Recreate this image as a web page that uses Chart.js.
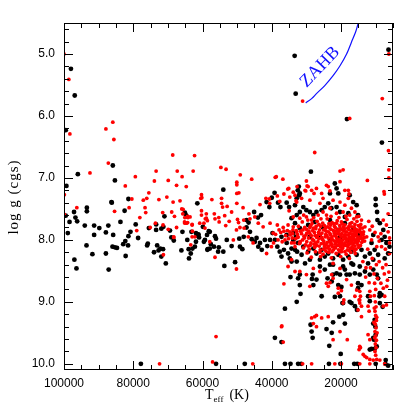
<!DOCTYPE html>
<html lang="en">
<head>
<meta charset="UTF-8">
<title>log g vs Teff</title>
<script src="https://cdn.jsdelivr.net/npm/chart.js"></script>
<style>
    body {
        margin: 0;
        padding: 0;
        background-color: #fff;
    }
</style>
</head>
<body>
<canvas id="kielChart" width="415" height="415"></canvas>
<script>
    // Teff in kK, log g in cgs
    const blackStars = [
        [98.0,5.24],[96.9,5.67],[99.5,6.23],[85.9,6.80],[96.0,6.94],[85.3,7.04],[99.3,7.13],[81.4,7.34],[86.3,7.39],[93.4,7.48],
        [93.4,7.54],[61.5,7.41],[99.5,7.61],[97.1,7.55],[96.7,7.64],[98.4,7.71],[96.2,7.70],[98.9,7.89],[94.0,7.77],[91.3,7.77],
        [91.3,7.92],[89.8,7.81],[93.5,8.09],[91.8,8.23],[97.0,8.32],[96.4,8.46],[87.9,7.88],[87.2,7.77],[86.2,7.40],[85.8,7.92],
        [86.0,8.11],[85.3,8.12],[84.7,8.13],[87.9,8.22],[87.1,8.48],[83.7,7.71],[82.5,7.53],[82.3,8.02],[82.9,8.07],[81.5,8.09],
        [82.2,8.26],[81.4,7.94],[80.8,7.87],[79.3,7.75],[78.6,7.97],[75.5,7.81],[75.8,8.06],[76.0,8.09],[74.0,8.20],[73.4,7.84],
        [73.4,7.75],[73.1,8.09],[72.7,8.17],[72.2,8.14],[71.4,8.15],[71.9,8.27],[71.0,7.62],[70.6,8.38],[71.9,7.82],[71.3,7.79],
        [69.4,7.85],[69.0,7.96],[68.3,8.01],[66.1,8.17],[65.1,7.56],[64.8,7.60],[64.6,7.62],[65.8,7.87],[64.4,8.00],[64.0,8.15],
        [63.9,8.30],[63.4,8.22],[62.9,8.14],[61.9,7.89],[61.6,7.93],[61.2,7.92],[61.0,7.96],[59.6,8.03],[59.9,7.79],[58.5,8.15],
        [58.7,7.92],[58.2,7.86],[77.8,10.0],
        [54.0,7.19],[45.1,7.55],[47.3,7.68],[46.7,7.72],[44.0,7.64],[43.1,7.60],[41.5,7.39],[40.7,7.47],[40.0,7.32],[39.2,7.24],
        [38.2,7.40],[37.5,7.47],[35.7,7.40],[35.0,7.47],[33.3,7.44],[32.8,7.33],[32.5,7.20],[32.1,7.28],[63.2,7.87],[61.2,7.91],
        [61.9,8.03],[62.2,8.11],[59.3,8.00],[58.6,8.16],[57.9,8.14],[57.6,8.07],[56.1,7.98],[56.7,8.11],[55.3,8.12],[54.0,8.19],
        [53.7,8.42],[50.6,8.36],[53.0,8.00],[51.6,8.10],[49.2,8.11],[49.4,7.98],[48.1,7.95],[47.3,7.80],[46.3,7.87],[45.8,7.99],
        [44.9,8.03],[44.4,7.97],[43.9,8.11],[43.4,8.05],[42.9,8.16],[42.0,8.00],[41.3,8.10],[40.5,8.00],[39.8,7.89],[39.1,8.00],
        [38.4,8.11],[37.7,8.19],[37.2,8.27],[36.5,8.16],[35.7,8.05],[35.3,8.22],[34.8,8.30],[34.3,8.14],[33.8,8.00],[33.0,7.95],
        [32.7,8.19],[33.8,7.89],[35.7,7.92],[37.2,7.95],[57.9,7.87],[56.4,7.94],[55.5,8.19],[48.5,8.15],[56.1,10.0],[47.8,10.0],
        [36.2,10.0],[39.1,9.58],[37.2,9.65],
        [33.4,5.03],[33.1,5.64],[18.3,6.05],[6.3,4.93],[8.2,6.43],[28.7,6.90],[10.0,7.34],[10.0,7.44],
        [32.2,7.14],[31.9,7.25],[21.8,7.09],[21.3,7.17],[23.2,7.25],[20.8,7.25],[23.7,7.41],[24.7,7.47],[22.8,7.49],[21.3,7.47],
        [17.5,7.28],[16.5,7.39],[15.5,7.44],[15.1,7.60],[17.9,7.57],[20.3,7.55],[18.9,7.63],[25.6,7.52],[27.1,7.55],[28.0,7.60],
        [29.0,7.55],[30.0,7.52],[30.9,7.47],[31.9,7.55],[32.8,7.60],[34.3,7.65],
        [9.6,7.55],[9.5,7.68],[8.8,7.73],[7.8,7.84],[7.4,7.95],[8.3,8.00],[6.9,8.05],[6.0,8.11],[6.4,8.22],[7.4,8.30],
        [9.3,8.24],[10.3,8.16],[11.2,8.05],[10.7,7.92],
        [33.8,8.00],[32.4,8.05],[30.9,8.11],[33.3,8.16],[31.4,8.24],[29.5,8.19],[28.0,8.14],[27.1,8.22],[25.6,8.16],[24.7,8.27],
        [26.1,8.32],[23.7,8.22],[22.3,8.30],[20.8,8.24],[19.4,8.32],[17.9,8.27],[17.0,8.19],[15.5,8.24],[14.1,8.16],[13.1,8.27],
        [11.7,8.22],[29.0,8.32],[30.4,8.38],[32.8,8.35],[22.3,8.40],[19.4,8.43],[16.5,8.40],[14.6,8.43],[12.2,8.38],[10.7,8.32],
        [33.3,7.73],[31.9,7.81],[29.5,7.76],[27.6,7.71],[25.2,7.80],[23.2,7.68],[20.8,7.84],[18.9,7.73],[16.5,7.81],[15.1,7.92],
        [29.0,7.95],[26.1,7.95],[20.3,7.97],[17.5,8.00],[23.2,8.00],
        [26.1,8.43],[24.7,8.48],[23.2,8.40],[21.3,8.54],[18.9,8.48],[17.5,8.56],[16.0,8.54],[14.6,8.56],[13.1,8.51],[11.7,8.56],
        [10.7,8.48],[9.7,8.56],[18.4,8.56],[17.0,8.38],[22.3,8.56],[20.3,8.56],
        [9.3,8.62],[8.8,8.86],[8.3,8.89],[8.8,9.02],[12.2,8.91],[11.7,8.99],[15.1,8.70],[14.1,8.73],[15.1,8.78],[15.4,9.13],
        [10.3,9.29],[10.1,9.40],[10.5,9.61],[11.7,9.77],[11.2,9.76],[9.7,9.72],[10.0,9.53],[10.7,9.35],[7.1,9.94],[6.4,10.03],
        [28.5,9.48],[28.2,9.58],[28.8,9.37],[23.4,9.71],[20.1,9.84],[22.7,9.50],[22.3,9.33],[24.2,9.44],[20.3,8.91],[19.6,9.02],
        [17.5,9.00],[23.9,8.62],[22.7,8.67],[20.8,8.73],[19.9,8.76],[28.2,8.56],[28.0,8.73],[27.1,8.64],[25.6,8.91],[31.9,8.56],
        [32.4,8.62],[34.6,8.60],[31.9,8.73],[31.7,8.87],[32.8,9.00],[36.2,9.11],[34.3,8.35],
        [20.5,9.24],[18.9,9.35],[19.4,9.21],[21.8,8.92],[19.4,9.02],[17.0,9.02],[16.0,9.07],[28.4,8.63],
        [8.9,8.91],[8.0,9.08],[10.7,9.58],[10.3,9.76],
        [32.4,10.0],[31.5,10.0],[23.5,10.0],[20.2,10.0],[16.2,10.0],[15.3,10.0],[10.0,10.0],[7.2,10.0],[34.6,10.0]
    ];

    const redStars = [
        [100.0,5.0],[98.6,5.41],[98.3,6.29],[87.9,6.21],[85.9,6.10],[85.6,6.38],[87.2,6.76],[92.5,6.92],[99.9,7.27],[82.3,7.13],
        [79.4,6.98],[73.4,6.89],[73.9,7.05],[68.6,6.63],[69.9,7.04],[67.3,6.89],[67.5,7.12],[65.9,6.98],[64.7,7.14],[62.3,6.64],
        [62.7,6.89],[60.3,7.27],[75.5,7.24],[76.1,7.33],[77.1,7.36],[80.4,7.34],[72.6,7.35],[70.3,7.31],[68.5,7.39],[66.5,7.37],
        [96.3,7.48],[60.5,7.33],
        [99.9,7.59],[85.4,7.54],[81.2,7.48],[79.0,7.85],[78.1,7.64],[76.6,7.48],[76.4,7.56],[75.1,7.80],[71.3,8.24],[71.4,7.76],
        [68.3,7.96],[68.1,7.62],[67.5,7.80],[66.0,7.50],[65.7,7.58],[65.1,7.73],[64.3,7.72],[64.3,7.62],[63.6,7.63],[63.0,7.75],
        [62.9,7.86],[60.3,7.60],[59.6,7.73],[58.9,7.65],[72.4,10.0],
        [71.5,7.56],[73.6,7.73],[69.9,7.83],[68.3,7.95],[68.9,7.55],[65.6,7.51],[65.1,7.64],[64.2,7.64],[65.2,7.71],[64.6,7.73],
        [63.0,7.76],[63.0,7.95],[63.4,8.08],
        [54.7,6.83],[53.2,6.86],[49.1,6.95],[45.8,7.02],[50.1,7.07],[50.1,7.11],[50.1,7.25],[49.5,7.24],[60.2,7.32],[57.3,7.35],
        [54.5,7.33],[54.5,7.41],[54.2,7.47],[52.9,7.46],[51.6,7.55],[50.1,7.41],[48.3,7.48],[60.3,7.53],[58.9,7.58],[59.2,7.66],
        [58.6,7.69],[56.6,7.58],[56.4,7.66],[55.3,7.64],[55.2,7.71],[53.6,7.61],[53.3,7.77],[52.3,7.70],[49.9,7.67],[49.6,7.72],
        [49.2,7.80],[48.1,7.68],[48.0,7.81],[46.6,7.58],[46.3,7.66],[44.9,7.63],[43.4,7.43],[41.7,7.33],[40.7,7.34],[40.6,7.41],
        [39.0,6.99],[38.4,7.29],[37.7,7.38],[36.5,7.26],[35.4,7.18],[34.8,7.31],[33.8,7.23],[32.7,7.14],[33.0,7.37],[35.0,7.53],
        [56.4,8.28],[50.2,8.47],
        [38.7,6.98],[36.8,7.02],[29.8,7.13],[30.2,7.21],[23.7,7.14],[23.2,7.21],[17.9,7.20],[17.7,7.26],[35.1,7.17],
        [43.9,7.73],[42.5,7.79],[40.5,7.73],[38.4,7.76],[37.9,7.84],[36.7,7.80],[35.3,7.76],[34.8,7.87],[33.8,7.79],[32.8,7.87],
        [32.4,7.95],[39.6,7.89],[36.2,8.00],[34.3,8.05],[31.9,8.05],[33.3,8.11],[38.2,8.00],[40.1,8.11],[41.5,8.22],[60.8,7.73],
        [62.2,7.95],[59.3,7.81],[51.1,8.00],[57.9,8.03],[46.8,7.95],[45.4,8.05],[50.2,7.84],
        [57.1,9.97],[45.5,10.0],[56.1,9.56],[37.2,9.40],[36.7,9.65],
        [6.2,5.0],[8.1,5.72],[31.1,5.76],[17.5,6.04],[27.6,6.59],[6.3,6.56],[6.2,6.87],[6.2,7.0],[7.6,7.22],[7.5,7.26],
        [12.4,7.04],[19.4,6.87],[20.3,6.89],
        [30.0,7.05],[29.5,7.14],[30.4,7.20],[28.5,7.20],[27.8,7.25],[27.1,7.17],[25.6,7.25],[25.2,7.33],[26.1,7.41],[29.0,7.36],
        [31.4,7.33],[32.8,7.39],[33.3,7.28],[24.2,7.12],[20.3,7.06],[18.9,7.20],[17.9,7.33],[20.3,7.39],[18.9,7.44],[17.0,7.49],
        [16.0,7.55],[22.3,7.36],[23.2,7.49],[25.2,7.55],[26.6,7.60],[24.2,7.60],[21.3,7.57],[19.4,7.55],[17.5,7.60],[15.5,7.63],
        [14.1,7.68],[30.0,7.63],[31.9,7.65],[33.8,7.63],[28.5,7.68],
        [13.1,7.79],[11.7,7.84],[12.6,7.95],[11.2,8.0],[9.3,7.95],[8.3,8.11],[9.7,8.11],[6.0,7.97],[6.4,7.87],[6.0,8.05],
        [6.0,8.22],[6.9,7.76],[7.8,7.68],[6.4,7.58],
        [11.0,8.30],[9.0,8.35],[8.0,8.45],[7.0,8.40],[6.2,8.52],[12.8,8.45],[9.5,8.62],[8.5,8.70],[6.6,8.65],
        [12.0,7.70],[11.0,7.78],[10.2,7.88],[9.0,8.02],[8.5,7.90],[7.2,8.15],[12.3,8.15],[11.5,8.45],[10.5,8.55],[9.8,8.40],
        [7.5,8.55],[6.8,8.75],[12.9,8.60],[13.7,8.35],
        [10.3,8.70],[10.0,8.80],[10.4,8.90],[10.1,9.00],[9.9,9.08],[10.2,9.15],[10.0,9.22],[9.8,9.30],[10.1,9.36],[9.9,9.42],
        [10.2,9.48],[10.0,9.55],[9.8,9.62],[10.1,9.68],[9.9,9.74],[10.2,9.80],[10.0,9.86],[9.7,9.25],[10.3,9.58],[10.4,9.10],
        [9.6,9.50],[10.5,9.33],
        [14.4,9.74],[14.8,9.77],[12.6,9.90],[13.1,9.88],[13.6,9.85],[11.7,9.93],[10.7,9.94],[9.7,9.93],[8.8,9.94],[12.2,9.53],
        [11.7,9.61],
        [31.1,10.0],[21.8,10.0],[19.9,10.0],[14.6,10.0],[11.7,10.0],[7.4,10.0],[28.5,10.0],
        [23.7,8.75],[23.2,8.69],[22.3,8.62],[19.9,8.82],[20.8,8.86],[19.2,8.97],[19.4,9.02],[14.6,8.83],[14.4,8.91],[14.6,9.02],
        [14.1,9.07],[14.8,8.97],[11.9,8.69],[11.7,8.83],[11.5,8.91],[12.2,9.07],[11.9,9.15],[7.8,8.78],[7.4,8.91],[6.9,9.05],
        [7.8,9.07],[27.6,9.24],[27.1,9.40],[28.0,9.35],[28.5,9.26],[20.3,9.48],[18.2,9.61],[22.3,9.61],[23.7,9.24],[27.1,9.22],
        [37.1,9.39],[36.5,8.71],
        [28.0,8.46],[26.1,8.51],[22.3,8.38],[20.3,8.46],[24.2,8.70],[22.7,8.56],[20.8,8.78],[18.4,8.64],[17.0,8.73],[15.5,8.81],
        [16.0,8.91],[14.6,8.97],[15.1,9.13],[14.1,9.24],[14.6,9.72],[31.9,8.51],[34.3,8.32],[35.3,8.43],[33.3,8.51],[30.0,8.56],
        [29.0,8.75],[25.6,9.26],
        // the crowded DA clump
        [31.2,7.71],[29.6,7.68],[28.4,7.74],[26.9,7.70],[25.3,7.73],[24.0,7.66],[22.6,7.72],[21.1,7.69],[19.7,7.74],[18.3,7.67],
        [16.9,7.72],[15.4,7.70],[14.3,7.75],
        [32.3,7.78],[30.5,7.80],[28.8,7.77],[27.3,7.82],[25.9,7.78],[24.5,7.81],[23.0,7.76],[21.7,7.80],[20.4,7.77],[19.0,7.82],
        [17.7,7.78],[16.2,7.80],[15.0,7.77],[13.8,7.81],
        [33.9,7.84],[31.7,7.86],[29.9,7.89],[28.2,7.85],[26.5,7.88],[25.0,7.84],[23.6,7.87],[22.2,7.85],[20.9,7.89],[19.6,7.84],
        [18.4,7.87],[17.1,7.85],[15.8,7.88],[14.6,7.84],[13.5,7.87],
        [34.7,7.92],[32.6,7.91],[30.7,7.94],[29.0,7.90],[27.5,7.93],[26.0,7.91],[24.6,7.95],[23.2,7.90],[21.8,7.93],[20.6,7.91],
        [19.3,7.95],[18.0,7.92],[16.7,7.94],[15.5,7.90],[14.2,7.93],[13.3,7.96],
        [33.1,7.98],[31.1,8.00],[29.4,7.97],[27.9,8.01],[26.4,7.98],[25.0,8.02],[23.7,7.97],[22.4,8.00],[21.1,7.99],[19.9,8.03],
        [18.7,7.98],[17.4,8.01],[16.2,7.99],[15.0,8.02],[13.9,7.99],
        [32.0,8.06],[30.3,8.08],[28.7,8.05],[27.1,8.09],[25.7,8.06],[24.3,8.08],[23.0,8.04],[21.7,8.07],[20.4,8.05],[19.2,8.09],
        [17.9,8.06],[16.6,8.08],[15.4,8.05],[14.4,8.09],
        [30.9,8.13],[29.2,8.15],[27.6,8.12],[26.0,8.16],[24.6,8.13],[23.3,8.15],[21.9,8.12],[20.7,8.16],[19.5,8.13],[18.2,8.16],
        [16.9,8.12],[15.7,8.15],
        [29.8,8.21],[27.4,8.19],[25.2,8.23],[23.6,8.20],[21.4,8.22],[19.9,8.19],[18.5,8.23],[17.2,8.20],[15.9,8.22],
        [28.6,8.28],[25.9,8.27],[22.8,8.29],[20.1,8.27],[17.6,8.30],
        [23.9,7.79],[22.9,7.83],[21.5,7.86],[20.2,7.82],[19.1,7.86],[17.8,7.83],[16.5,7.86],[22.6,7.95],[21.3,7.96],[20.0,7.94],
        [18.8,7.96],[17.6,7.95],[16.4,7.97],[15.2,7.95],[23.3,8.03],[21.9,8.02],[20.7,8.01],[19.5,8.00],[18.3,8.03],[17.1,8.04],
        [15.8,8.03],[24.4,7.91],[22.0,7.89],[19.8,7.90],[17.5,7.89],[15.1,7.86],[14.8,7.98],[14.0,8.04],[24.8,8.10],[22.5,8.11],
        [20.2,8.11],[18.0,8.11],[16.0,8.10],
        [30.0,7.83],[28.0,7.81],[26.2,7.84],[24.8,7.77],[23.3,7.81],[21.9,7.78],[20.6,7.86],[19.4,7.79],[18.1,7.81],[16.9,7.79],
        [15.6,7.83],[14.3,7.88],[31.4,7.90],[28.6,7.93],[27.0,7.96],[25.5,7.89],[24.1,7.93],[22.8,7.98],[21.5,7.91],[20.3,7.99],
        [19.0,7.92],[17.8,7.98],[16.5,7.91],[15.3,7.99],[14.1,7.97],[29.9,8.03],[28.3,7.99],[26.7,8.03],[25.4,7.99],[24.0,8.04],
        [22.7,8.07],[21.4,8.04],[20.1,8.08],[18.9,8.05],[17.6,8.07],[16.3,8.05],[15.1,8.08],[29.5,8.10],[27.8,8.07],[26.3,8.10],
        [25.0,8.15],[23.6,8.10],[22.2,8.16],[21.0,8.09],[19.8,8.15],[18.6,8.09],[17.3,8.14],[16.1,8.17],[24.3,7.86],[23.0,7.92],
        [21.0,7.83],[18.7,7.92],[17.3,7.90],[16.0,7.84],[22.1,7.74],[19.9,7.71],[17.4,7.74],[26.4,7.75],[31.8,8.03],[30.6,7.97],
        [32.9,7.85],[34.0,7.90],
        [29.0,7.80],[27.7,7.88],[26.8,7.93],[25.6,7.96],[24.9,8.06],[23.9,8.13],[22.9,8.08],[21.6,8.13],[20.9,8.03],[19.7,8.06],
        [18.5,7.99],[17.0,7.97],[16.8,8.01],[15.9,7.93],[14.9,8.12],[14.5,7.80],[13.6,7.91],[13.2,8.02],[30.1,7.92],[28.9,8.09],
        [27.3,8.05],[26.1,8.20],[24.4,8.18],[22.6,8.19],[20.4,8.19],[18.9,8.19],[17.7,8.17],[16.5,8.14],[23.5,7.74],[21.3,7.73],
        [18.9,7.76],[16.0,7.75],[27.2,7.78],[29.3,7.86],[31.0,7.84],[32.5,7.96],[33.5,8.05],[35.2,7.98],[36.5,7.86],
        [38.9,7.91],[37.4,7.88],[36.0,7.93],[35.5,7.85],[34.1,7.97],[37.0,8.03],[39.5,8.05],
        [30.8,7.60],[27.9,7.64],[25.8,7.66],[22.9,7.62],[20.6,7.64],[18.6,7.62],[16.3,7.66],[14.9,7.62]
    ];

    // zero-age horizontal branch track
    const zahbTrack = [
        [30.2,5.79],[28.5,5.72],[27.1,5.64],[24.7,5.51],[22.3,5.35],[20.3,5.19],[18.4,5.00],[17.0,4.81],[15.7,4.63],[15.0,4.49]
    ];

    const xTickValues = [100000, 80000, 60000, 40000, 20000];
    const yTickValues = [5, 6, 7, 8, 9, 10];

    function toPoints(list) {
        return list.map(p => ({ x: p[0] * 1000, y: p[1] }));
    }

    // frame with inward ticks on all four sides, axis titles, ZAHB label
    const framePlugin = {
        id: 'frame',
        afterDatasetsDraw: (chart) => {
            const ctx = chart.ctx;
            const a = chart.chartArea;
            const xs = chart.scales.x;
            const ys = chart.scales.y;

            ctx.save();
            ctx.strokeStyle = '#000';
            ctx.lineWidth = 1;
            ctx.strokeRect(a.left + 0.5, a.top + 0.5, a.right - a.left - 1, a.bottom - a.top - 1);

            ctx.beginPath();
            for (let t = 5000; t <= 100000; t += 5000) {
                const px = Math.round(xs.getPixelForValue(t)) + 0.5;
                const len = t % 20000 === 0 ? 9 : 5;
                ctx.moveTo(px, a.bottom);
                ctx.lineTo(px, a.bottom - len);
                ctx.moveTo(px, a.top);
                ctx.lineTo(px, a.top + len);
            }
            for (let k = 23; k <= 50; k++) {
                const py = Math.round(ys.getPixelForValue(k / 5)) + 0.5;
                const len = k % 5 === 0 ? 9 : 5;
                ctx.moveTo(a.left, py);
                ctx.lineTo(a.left + len, py);
                ctx.moveTo(a.right, py);
                ctx.lineTo(a.right - len, py);
            }
            ctx.stroke();

            // y title
            ctx.fillStyle = '#000';
            ctx.save();
            ctx.translate(14, 197);
            ctx.rotate(-Math.PI / 2);
            ctx.font = '15px "Liberation Serif"';
            ctx.letterSpacing = '1px';
            ctx.textAlign = 'center';
            ctx.textBaseline = 'middle';
            ctx.fillText('log g (cgs)', 0, 0);
            ctx.restore();

            // x title with subscript
            ctx.textAlign = 'left';
            ctx.textBaseline = 'alphabetic';
            ctx.font = '14px "Liberation Serif"';
            let tx = 205;
            ctx.fillText('T', tx, 399);
            tx += ctx.measureText('T').width;
            ctx.font = '9px "Liberation Serif"';
            ctx.fillText('eff', tx, 402);
            tx += ctx.measureText('eff').width + 6;
            ctx.font = '14px "Liberation Serif"';
            ctx.fillText('(K)', tx, 399);

            // ZAHB label
            ctx.save();
            ctx.translate(320, 67);
            ctx.rotate(-46 * Math.PI / 180);
            ctx.fillStyle = '#1010ff';
            ctx.font = '18px "Liberation Serif"';
            ctx.textAlign = 'center';
            ctx.textBaseline = 'middle';
            ctx.fillText('ZAHB', 0, 0);
            ctx.restore();

            ctx.restore();
        }
    };

    const tickFont = { family: '"Liberation Sans", Arial, sans-serif', size: 12 };

    const ctx = document.getElementById('kielChart').getContext('2d');
    const kielChart = new Chart(ctx, {
        type: 'scatter',
        data: {
            datasets: [
                {
                    data: toPoints(zahbTrack),
                    showLine: true,
                    borderColor: '#1010ff',
                    borderWidth: 1.2,
                    pointRadius: 0,
                    tension: 0.3
                },
                {
                    data: toPoints(redStars),
                    backgroundColor: '#ff0000',
                    borderWidth: 0,
                    pointRadius: 1.9
                },
                {
                    data: toPoints(blackStars),
                    backgroundColor: '#000000',
                    borderWidth: 0,
                    pointRadius: 2.4
                }
            ]
        },
        options: {
            responsive: false,
            animation: false,
            layout: {
                padding: { top: 23, right: 22, left: 0, bottom: 0 }
            },
            plugins: {
                legend: { display: false },
                tooltip: { enabled: false }
            },
            scales: {
                x: {
                    type: 'linear',
                    reverse: true,
                    min: 5000,
                    max: 100000,
                    afterBuildTicks: (scale) => {
                        scale.ticks = xTickValues.map(v => ({ value: v }));
                    },
                    afterFit: (scale) => {
                        scale.height = 45;
                    },
                    grid: { display: false, drawTicks: false },
                    border: { display: false },
                    ticks: {
                        color: '#000',
                        font: tickFont,
                        padding: 6,
                        maxRotation: 0,
                        autoSkip: false,
                        callback: (v) => String(v)
                    }
                },
                y: {
                    type: 'linear',
                    reverse: true,
                    min: 4.5,
                    max: 10.1,
                    afterBuildTicks: (scale) => {
                        scale.ticks = yTickValues.map(v => ({ value: v }));
                    },
                    afterFit: (scale) => {
                        scale.width = 64;
                    },
                    grid: { display: false, drawTicks: false },
                    border: { display: false },
                    ticks: {
                        color: '#000',
                        font: tickFont,
                        padding: 9,
                        autoSkip: false,
                        callback: (v) => v.toFixed(1)
                    }
                }
            }
        },
        plugins: [framePlugin]
    });
</script>
</body>
</html>
